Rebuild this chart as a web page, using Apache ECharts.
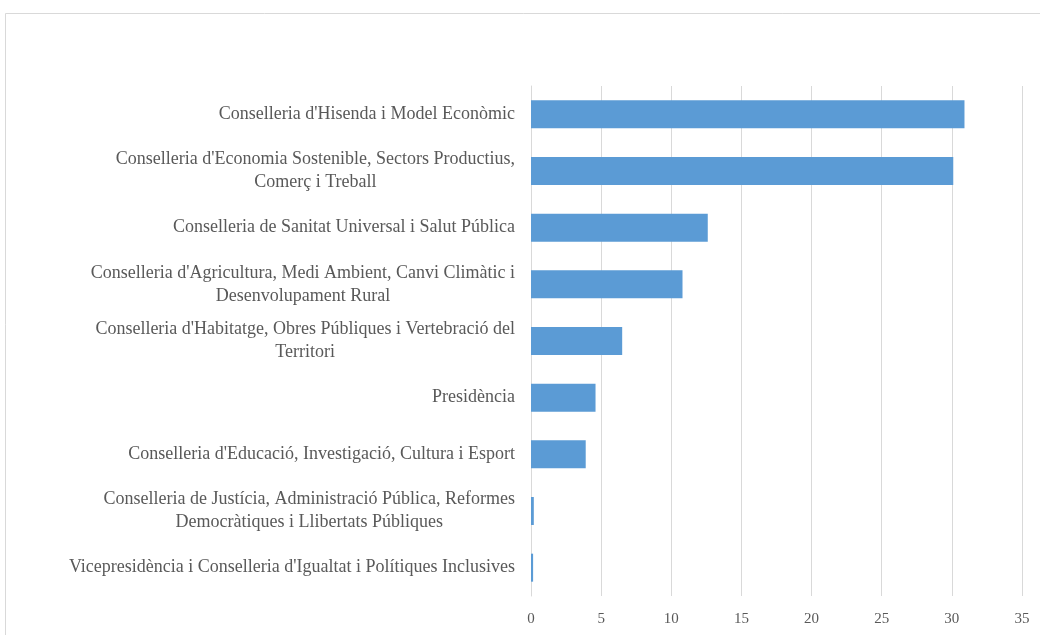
<!DOCTYPE html>
<html>
<head>
<meta charset="utf-8">
<script src="https://cdn.jsdelivr.net/npm/echarts@6/dist/echarts.min.js"></script>
<style>html,body{margin:0;padding:0;background:#fff}#c{width:1040px;height:635px}</style>
</head>
<body>
<div id="c"></div>
<script>
// Categories listed top to bottom
const categories = [
  "Conselleria d'Hisenda i Model Econòmic",
  "Conselleria d'Economia Sostenible, Sectors Productius,\nComerç i Treball",
  "Conselleria de Sanitat Universal i Salut Pública",
  "Conselleria d'Agricultura, Medi Ambient, Canvi Climàtic i\nDesenvolupament Rural",
  "Conselleria d'Habitatge, Obres Públiques i Vertebració del\nTerritori",
  "Presidència",
  "Conselleria d'Educació, Investigació, Cultura i Esport",
  "Conselleria de Justícia, Administració Pública, Reformes\nDemocràtiques i Llibertats Públiques",
  "Vicepresidència i Conselleria d'Igualtat i Polítiques Inclusives"
];
const values = [30.9, 30.1, 12.6, 10.8, 6.5, 4.6, 3.9, 0.2, 0.15];
const xMin = 0, xMax = 35, xInterval = 5;

const chart = echarts.init(document.getElementById('c'), null, {renderer: 'canvas'});
const serif = "'Liberation Serif', 'DejaVu Serif', serif";
chart.setOption({
  animation: false,
  backgroundColor: '#fff',
  graphic: [{
    type: 'rect', z: -1, silent: true,
    shape: {x: 5.5, y: 13.5, width: 1100, height: 700},
    style: {fill: 'none', stroke: '#d9d9d9', lineWidth: 1}
  }],
  grid: {left: 531, right: 18, top: 86, bottom: 39, containLabel: false},
  xAxis: {
    type: 'value', min: xMin, max: xMax, interval: xInterval,
    axisLine: {show: false}, axisTick: {show: false},
    splitLine: {show: true, lineStyle: {color: '#d9d9d9', width: 1}},
    axisLabel: {color: '#595959', fontFamily: serif, fontSize: 15, margin: 16}
  },
  yAxis: {
    type: 'category', inverse: true, data: categories,
    axisLine: {show: true, lineStyle: {color: '#d9d9d9'}},
    axisTick: {show: false},
    axisLabel: {
      color: '#595959', fontFamily: serif, fontSize: 18, margin: 16, lineHeight: 23,
      formatter: function (v) { return v.split('\n').map(function (l) { return '{c|' + l + '}'; }).join('\n'); },
      rich: {c: {align: 'center', color: '#595959', fontFamily: serif, fontSize: 18, lineHeight: 23}}
    }
  },
  series: [{
    type: 'bar', data: values, barWidth: 28,
    itemStyle: {color: '#5b9bd5'}
  }]
});
</script>
</body>
</html>
